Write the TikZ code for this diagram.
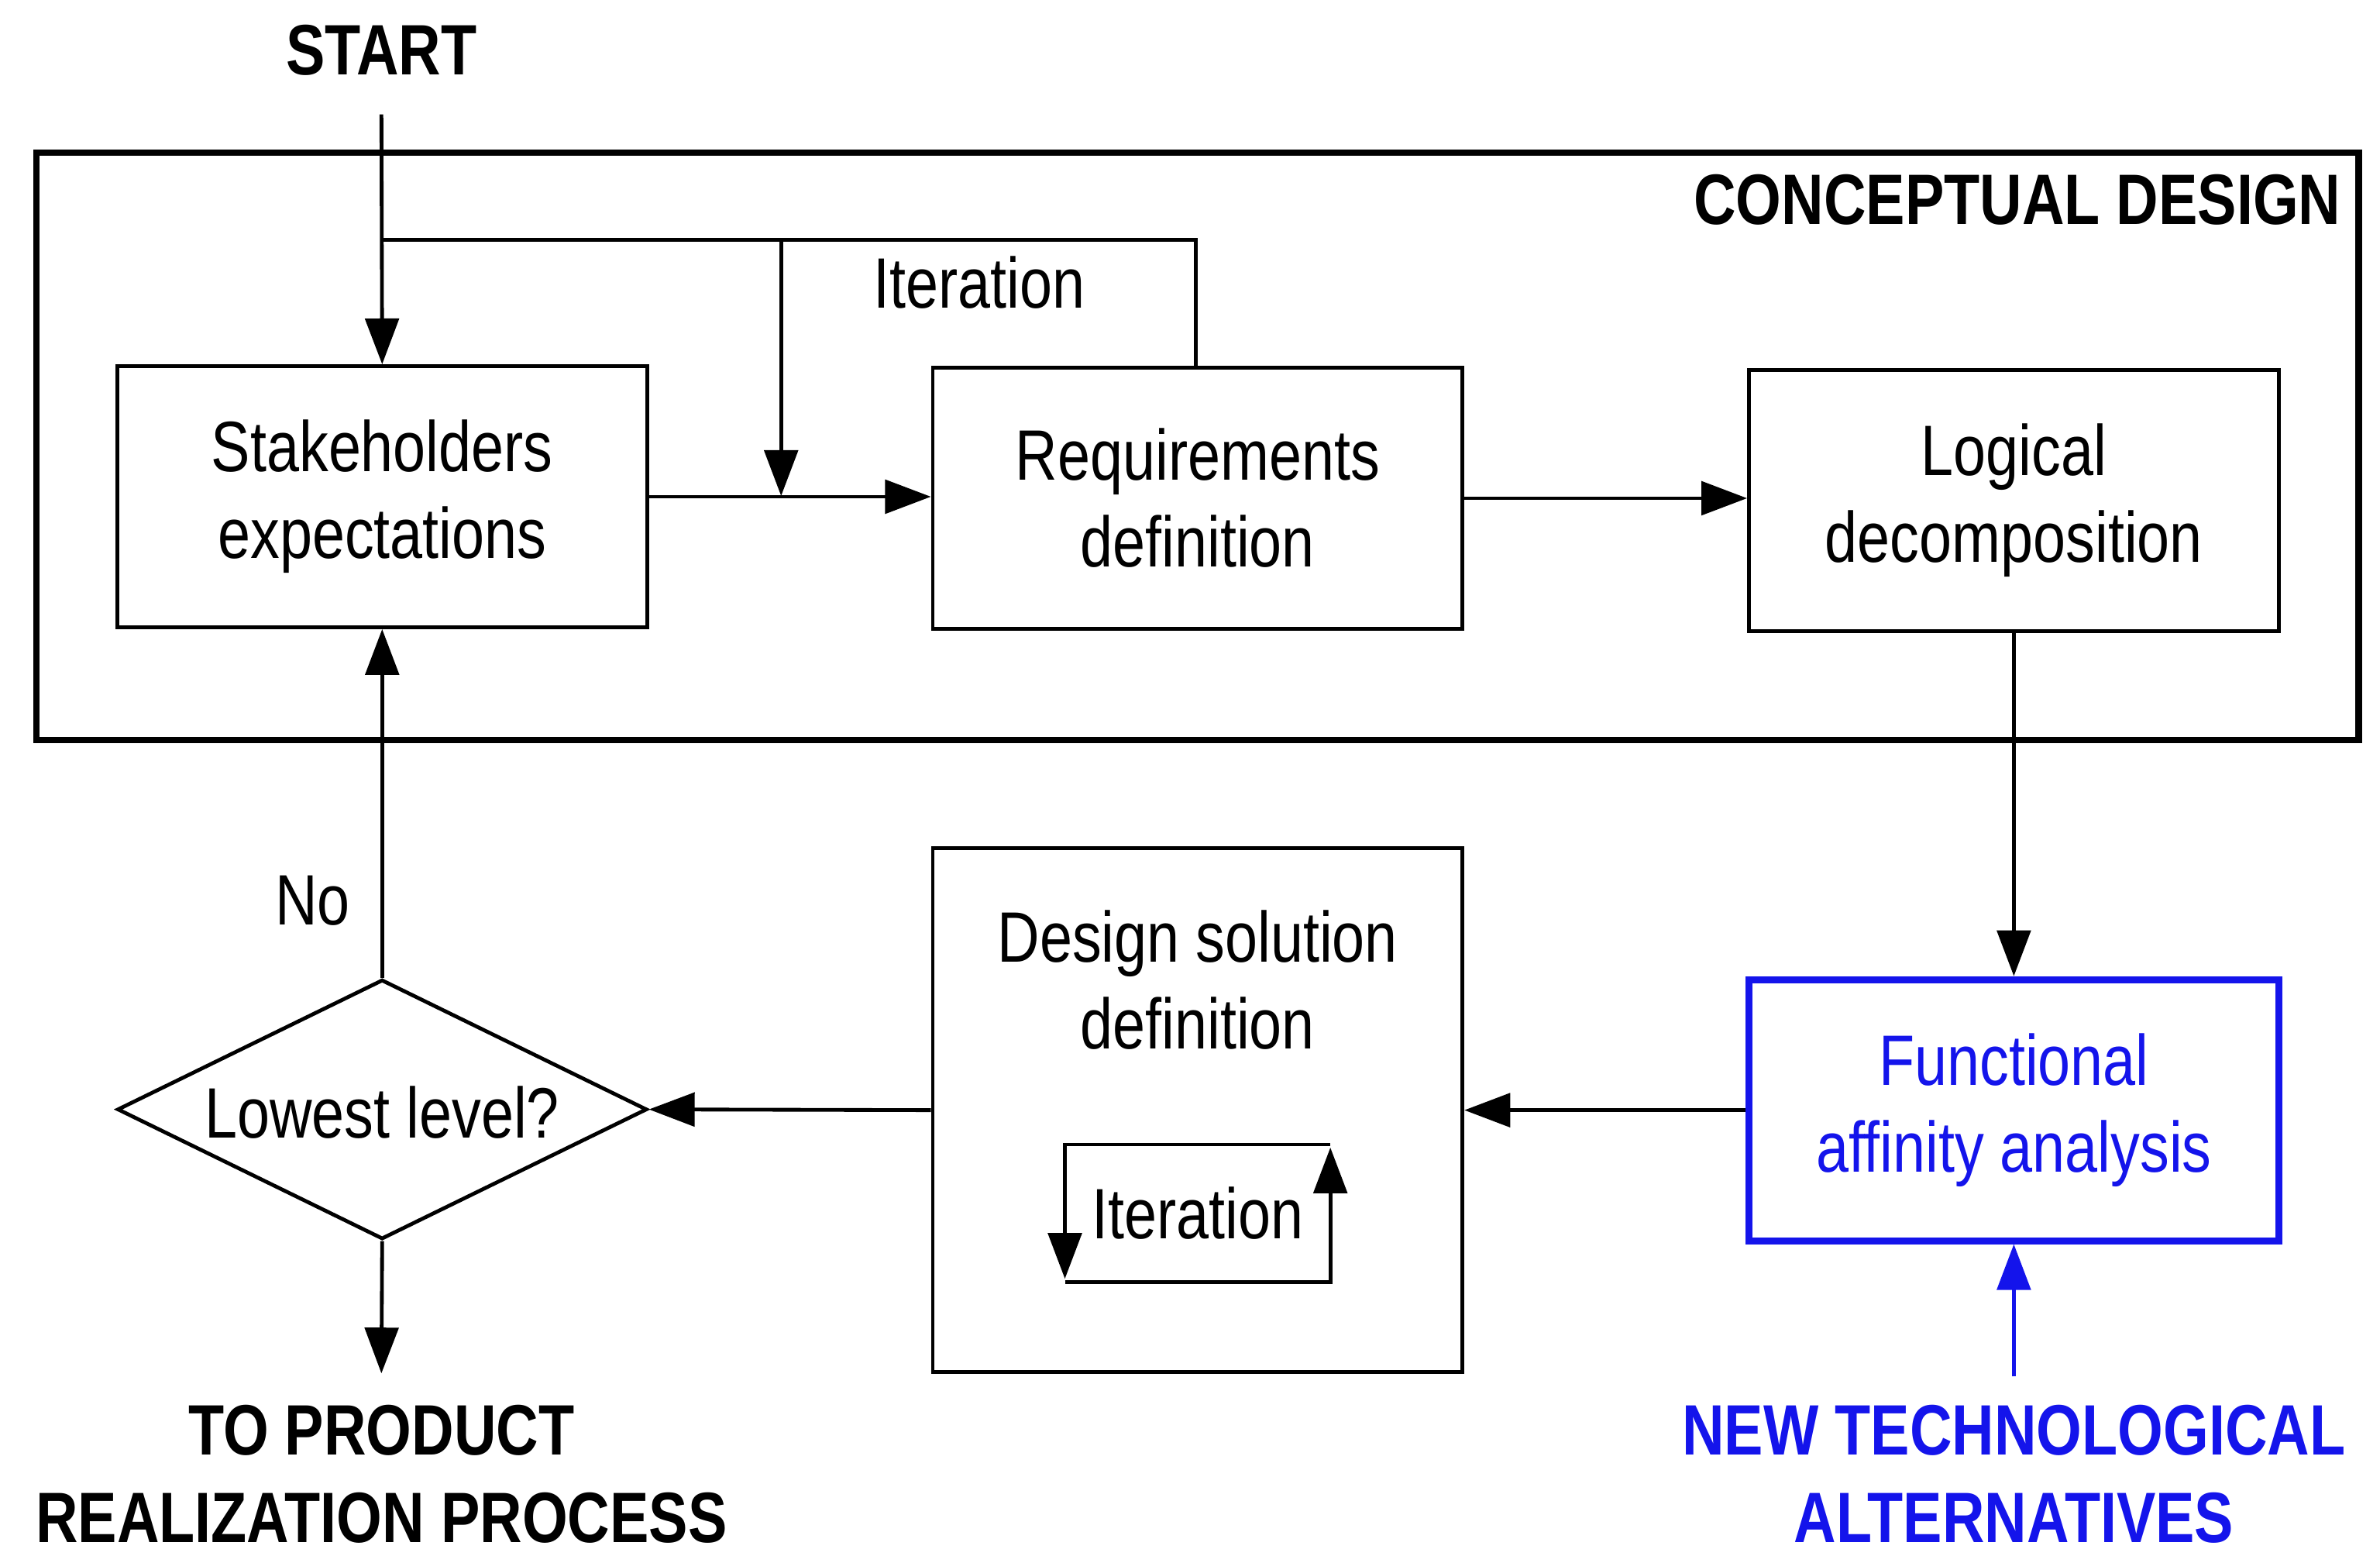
\documentclass[tikz,border=0pt]{standalone}
\usepackage{fontspec}
\setmainfont{Liberation Sans}[FakeStretch=0.82]
\usepackage{tikz}
\usetikzlibrary{arrows.meta,shapes.geometric}
\definecolor{ablue}{RGB}{20,20,235}
\tikzset{
  box/.style={draw=black,line width=0.7pt,minimum width=3.47cm,minimum height=1.71cm,align=center,font=\fontsize{13.3}{16.2}\selectfont},
  lbl/.style={font=\fontsize{13.3}{16.2}\selectfont,inner sep=0pt},
  big/.style={font=\fontsize{13.3}{16.2}\selectfont\bfseries,align=center,inner sep=0pt},
  arr/.style={-{Triangle[length=0.3cm,width=0.22cm]},line width=0.7pt},
}
\begin{document}
\begin{tikzpicture}[x=0.01cm,y=-0.01cm]
\useasboundingbox (0,0) rectangle (1560,1024);
\draw[line width=1.2pt] (24,100) rectangle (1546,485);
\node[big,anchor=east] (CD) at (1535,131) {CONCEPTUAL DESIGN};
\node[big] (start) at (250,33) {START};

\node[box] (SE) at (250.5,325.5) {Stakeholders\\expectations};
\node[box] (RD) at (785,326.5) {Requirements\\definition};
\node[box] (LD) at (1320,328) {Logical\\decomposition};
\node[box,minimum height=3.43cm] (DS) at (785,727.5) {};
\node[lbl,align=center] (DStxt) at (785,642) {Design solution\\definition};
\node[box,draw=ablue,text=ablue,line width=1.3pt,minimum height=1.71cm] (FA) at (1320,727.5) {Functional\\affinity analysis};
\node[draw,diamond,line width=0.7pt,minimum width=3.47cm,minimum height=1.70cm,inner sep=0pt,aspect=2.04] (LL) at (250.5,727) {};
\node[lbl] (LLtxt) at (250.5,729) {Lowest level?};

\node[big] (TP) at (250,966) {TO PRODUCT\\REALIZATION PROCESS};
\node[big,text=ablue] (NT) at (1320,966) {NEW TECHNOLOGICAL\\ALTERNATIVES};

% top iteration loop
\coordinate (s0) at (250,75);
\coordinate (it1) at (250,157);
\coordinate (it2) at (512,157);
\coordinate (it3) at (784,157);
\coordinate (it4) at (512,325);
\draw[arr] (s0) -- (SE.north);
\draw[line width=0.7pt] (it1) -- (it3) -- (RD.north -| it3);
\draw[arr] (it2) -- (it4);
\node[lbl] (itlbl) at (642,185) {Iteration};

\draw[arr] (SE.east) -- (SE.east -| RD.west);
\draw[arr] (RD.east) -- (RD.east -| LD.west);
\draw[arr] (LD.south) -- (FA.north);
\draw[arr] (FA.west) -- (DS.east);
\draw[arr] (DS.west) -- (LL.east);
\draw[arr] (LL.north) -- (SE.south);
\node[lbl] (no) at (205,590) {No};
\coordinate (tp0) at (250,900);
\draw[arr] (LL.south) -- (tp0);
\coordinate (nt0) at (1320,902);
\draw[arr,draw=ablue,fill=ablue] (nt0) -- (FA.south);

% inner iteration
\coordinate (a1) at (872,750);
\coordinate (a2) at (698,750);
\coordinate (a3) at (698,838);
\coordinate (b1) at (698,840);
\coordinate (b2) at (872,840);
\coordinate (b3) at (872,752);
\draw[arr] (a1) -- (a2) -- (a3);
\draw[arr] (b1) -- (b2) -- (b3);
\node[lbl] (it2lbl) at (785,795) {Iteration};
\end{tikzpicture}
\end{document}
